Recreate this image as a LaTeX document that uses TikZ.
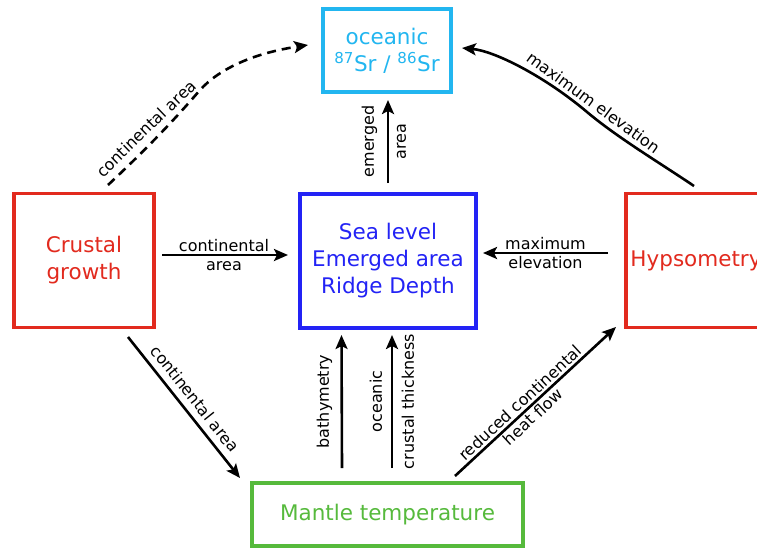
\documentclass[tikz,border=0pt]{standalone}
\usepackage{fontspec}
\setmainfont{DejaVu Sans}
\usetikzlibrary{arrows.meta}
\definecolor{cred}{RGB}{226,42,30}
\definecolor{ccyan}{RGB}{34,182,240}
\definecolor{cblue}{RGB}{35,35,245}
\definecolor{cgreen}{RGB}{86,186,60}
\begin{document}
\begin{tikzpicture}[x=1pt,y=-1pt,
  box/.style={draw, line width=3.8pt, outer sep=0pt, inner sep=0pt, align=center,
    font=\fontsize{21.5}{27}\selectfont},
  lbl/.style={inner sep=0pt, align=center, font=\fontsize{16}{19}\selectfont},
  arr/.style={line width=2.6pt, -{Stealth[length=14pt,width=12pt,inset=3pt]}},
  dasharr/.style={arr, dash pattern=on 9pt off 6pt}
]
\useasboundingbox (0,0) rectangle (757,549);
\clip (0,0) rectangle (757,549);
\fill[white] (0,0) rectangle (757,549);

\node[box, draw=cred, text=cred, minimum width=140pt, minimum height=134pt] (crust) at (84,260.5) {Crustal\\growth};
\node[box, draw=ccyan, text=ccyan, minimum width=128pt, minimum height=83pt] (sr) at (387,50.5) {oceanic\\\textsuperscript{87}Sr / \textsuperscript{86}Sr};
\node[box, draw=cblue, text=cblue, minimum width=176pt, minimum height=134pt] (sea) at (388,261) {Sea level\\Emerged area\\Ridge Depth};
\node[box, draw=cred, text=cred, minimum width=140pt, minimum height=134pt] (hyp) at (696,260.5) {Hypsometry};
\node[box, draw=cgreen, text=cgreen, minimum width=271pt, minimum height=63pt] (mantle) at (387.5,514.5) {Mantle temperature};

% crust -> sea
\draw[arr] ([shift={(8,-5.5)}]crust.east) -- node[lbl, xshift=-1pt]{continental\\area} ([shift={(-12,-6)}]sea.west);
% sea -> sr
\draw[arr] ([shift={(0,-11)}]sea.north) -- node[lbl, xshift=-4pt, rotate=90]{emerged\\[13pt]area} ([shift={(1,8)}]sr.south);
% hyp -> sea
\draw[arr] ([shift={(-18,-7.5)}]hyp.west) -- node[lbl]{maximum\\elevation} ([shift={(7,-8)}]sea.east);
% hyp -> sr (curve)
\draw[arr] ([shift={(-2,-7.5)}]hyp.north) .. controls (660,163) and (617.6,137.7) .. (587,112)
   .. controls (545,76.6) and (495,51) .. ([shift={(11,-2.5)}]sr.east);
\node[lbl, rotate=-36] (lmax) at (593.5,102.5) {maximum elevation};
% crust -> sr (dashed)
\draw[dasharr] ([shift={(24,-8.5)}]crust.north) .. controls (140,155) and (170,125) .. (200,90)
   .. controls (220,68) and (255,53) .. ([shift={(-15,-5.5)}]sr.west);
\node[lbl, rotate=44] (lcont) at (146,128.5) {continental area};
% crust -> mantle
\draw[arr] ([shift={(44,9.5)}]crust.south) -- node[lbl, sloped, above=6.7pt]{continental area} ([shift={(-12,-5)}]mantle.north west);
% mantle -> sea
\draw[arr] ([shift={(-45.5,-15)}]mantle.north) -- node[lbl, xshift=-17.2pt, rotate=90]{bathymetry} ([shift={(-46.5,7)}]sea.south);
\draw[arr] ([shift={(4.5,-15)}]mantle.north) -- node[lbl, rotate=90]{oceanic\\[13pt]crustal thickness} ([shift={(4,7)}]sea.south);
% mantle -> hyp
\draw[arr] ([shift={(67.5,-7)}]mantle.north) -- node[lbl, pos=0.445, sloped]{reduced continental\\heat flow} ([shift={(-10,-0.5)}]hyp.south west);
\end{tikzpicture}
\end{document}
